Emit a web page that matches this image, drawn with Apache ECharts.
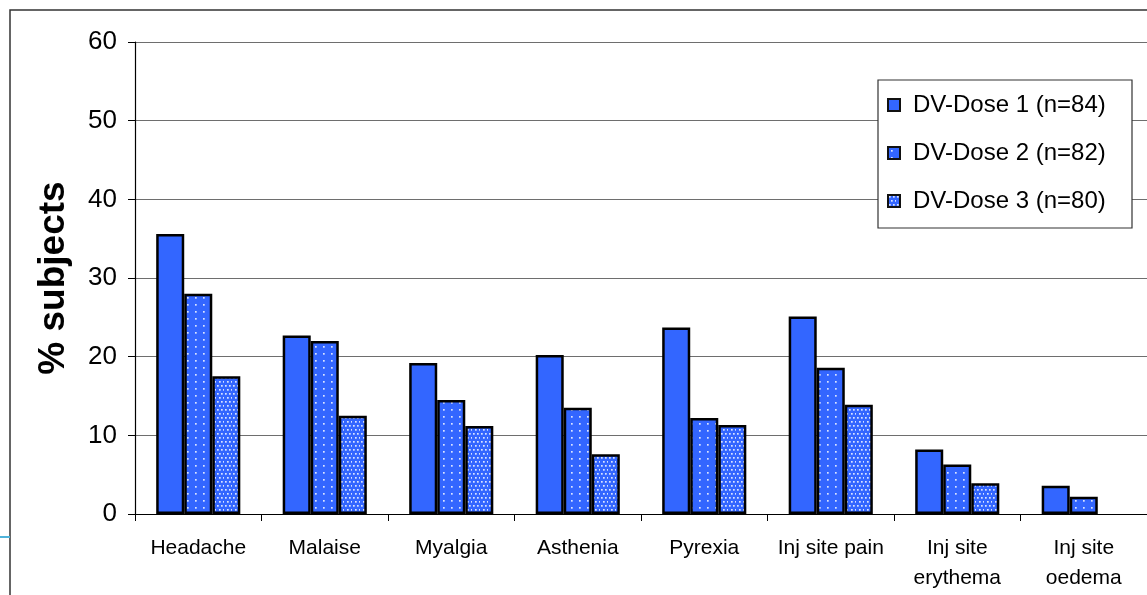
<!DOCTYPE html>
<html>
<head>
<meta charset="utf-8">
<script src="https://cdn.jsdelivr.net/npm/echarts@6/dist/echarts.min.js"></script>
<style>
  html, body { margin: 0; padding: 0; background: #fff; }
  #chart { width: 1147px; height: 595px; }
</style>
</head>
<body>
<div id="chart"></div>
<script>
// Adverse events by dose (% of subjects)
const categories = ['Headache', 'Malaise', 'Myalgia', 'Asthenia', 'Pyrexia',
  'Inj site pain', 'Inj site\nerythema', 'Inj site\noedema'];
const seriesNames = ['DV-Dose 1 (n=84)', 'DV-Dose 2 (n=82)', 'DV-Dose 3 (n=80)'];
const dose1 = [35.6, 22.7, 19.2, 20.2, 23.7, 25.1, 8.2, 3.6];
const dose2 = [28.0, 22.0, 14.5, 13.5, 12.2, 18.6, 6.3, 2.2];
const dose3 = [17.5, 12.5, 11.2, 7.6, 11.3, 13.9, 3.9, null];
const yTicks = { min: 0, max: 60, interval: 10 };

const BLUE = '#3366ff';

// Dotted fills for the second and third dose
function dotPattern(w, h, dots) {
  const c = document.createElement('canvas');
  c.width = w; c.height = h;
  const g = c.getContext('2d');
  g.fillStyle = BLUE;
  g.fillRect(0, 0, w, h);
  g.fillStyle = 'rgba(228,234,255,0.95)';
  dots.forEach(([x, y]) => g.fillRect(x, y, 1.7, 1.7));
  return { image: c, repeat: 'repeat' };
}
const sparseDots = dotPattern(8, 7, [[3, 3]]);
const denseDots = dotPattern(8, 8, [[1, 1], [5, 1], [3, 5], [7, 5]]);

const fills = [BLUE, sparseDots, denseDots];
const values = [dose1, dose2, dose3];

const chart = echarts.init(document.getElementById('chart'), null, { renderer: 'canvas' });

chart.setOption({
  animation: false,
  backgroundColor: '#fff',
  textStyle: { fontFamily: 'Liberation Sans, Arial, sans-serif', color: '#000' },
  grid: { left: 135, top: 42, width: 1024, height: 472, containLabel: false },
  graphic: [
    { type: 'rect', z: 1, silent: true,
      shape: { x: 10, y: 10, width: 1300, height: 700 },
      style: { fill: 'none', stroke: '#333', lineWidth: 1.5 } },
    { type: 'line', z: 1, silent: true,
      shape: { x1: 0, y1: 537, x2: 10, y2: 537 },
      style: { stroke: '#4fb3da', lineWidth: 2 } },
    { type: 'rect', z: 5, silent: true,
      shape: { x: 878, y: 80, width: 254, height: 148 },
      style: { fill: '#fff', stroke: '#333', lineWidth: 1.2 } }
  ],
  legend: {
    orient: 'vertical',
    left: 887,
    top: 93,
    z: 10,
    padding: 0,
    itemGap: 24,
    itemWidth: 12,
    itemHeight: 12,
    icon: 'rect',
    itemStyle: { borderColor: '#111', borderWidth: 2 },
    textStyle: { fontSize: 24, lineHeight: 24, color: '#000', padding: [0, 0, 0, 8],
      fontFamily: 'Liberation Sans, Arial, sans-serif' },
    data: seriesNames
  },
  xAxis: {
    type: 'category',
    data: categories,
    axisLine: { lineStyle: { color: '#000', width: 1.2 } },
    axisTick: { show: true, length: 7, lineStyle: { color: '#000' } },
    axisLabel: { fontSize: 21, lineHeight: 30, margin: 19, color: '#000', interval: 0 },
    splitLine: { show: false }
  },
  yAxis: {
    type: 'value',
    min: yTicks.min,
    max: yTicks.max,
    interval: yTicks.interval,
    name: '% subjects',
    nameLocation: 'middle',
    nameGap: 63,
    nameTextStyle: { fontSize: 37, fontWeight: 'bold', color: '#000' },
    axisLine: { show: true, lineStyle: { color: '#000', width: 1.2 } },
    axisTick: { show: true, length: 7, lineStyle: { color: '#000' } },
    axisLabel: { fontSize: 26, margin: 18, color: '#000' },
    splitLine: { show: true, lineStyle: { color: '#6e6e6e', width: 1 } }
  },
  series: values.map((v, i) => ({
    name: seriesNames[i],
    type: 'bar',
    data: v,
    barGap: '0%',
    barCategoryGap: '33.5%',
    z: 3,
    itemStyle: { color: fills[i], borderColor: '#000', borderWidth: 2.5 }
  }))
});
</script>
</body>
</html>
